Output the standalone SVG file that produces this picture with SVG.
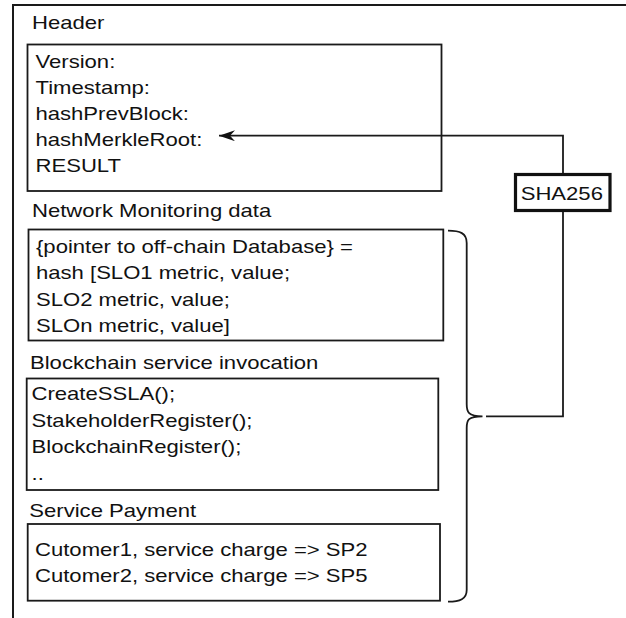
<svg xmlns="http://www.w3.org/2000/svg" width="626" height="618" viewBox="0 0 626 618">
  <style>
    .box { fill: #ffffff; stroke: #1a1a1a; stroke-width: 1.8; }
    .hash { fill: #ffffff; stroke: #111111; stroke-width: 3.2; }
    .wire { fill: none; stroke: #1a1a1a; stroke-width: 1.8; }
    .frame { fill: none; stroke: #1a1a1a; stroke-width: 2; }
    text { font-family: "Liberation Sans", Arial, Helvetica, sans-serif; font-size: 18.8px; fill: #111111; }
  </style>
  <defs>
    <marker id="arrow" markerUnits="userSpaceOnUse" viewBox="0 0 16 11" refX="16" refY="5.5" markerWidth="16" markerHeight="11" orient="auto">
      <path d="M0,0 L16,5.5 L0,11 L5,5.5 Z" fill="#111111"/>
    </marker>
  </defs>

  <!-- block frame: left edge and top edge -->
  <path class="frame" d="M13 618 V5 H626"/>

  <g id="header">
    <g transform="scale(1.175 1)"><text x="27.23" y="29.3">Header</text></g>
    <rect class="box" x="27.5" y="44.5" width="414" height="146.5"/>
    <g transform="scale(1.175 1)">
      <text x="30.21" y="68.4">Version:</text>
      <text x="30.21" y="94.3">Timestamp:</text>
      <text x="30.21" y="120.2">hashPrevBlock:</text>
      <text x="30.21" y="146.1">hashMerkleRoot:</text>
      <text x="30.21" y="172">RESULT</text>
    </g>
  </g>

  <g id="monitoring">
    <g transform="scale(1.175 1)"><text x="27.23" y="216.7">Network Monitoring data</text></g>
    <rect class="box" x="28.5" y="229.5" width="414.8" height="111"/>
    <g transform="scale(1.175 1)">
      <text x="30.64" y="253.3">{pointer to off-chain Database} =</text>
      <text x="30.64" y="279.5">hash [SLO1 metric, value;</text>
      <text x="30.64" y="305.7">SLO2 metric, value;</text>
      <text x="30.64" y="331.9">SLOn metric, value]</text>
    </g>
  </g>

  <g id="invocation">
    <g transform="scale(1.175 1)"><text x="25.53" y="369">Blockchain service invocation</text></g>
    <rect class="box" x="26.7" y="378.5" width="411.6" height="111.5"/>
    <g transform="scale(1.175 1)">
      <text x="26.81" y="400">CreateSSLA();</text>
      <text x="26.81" y="426.7">StakeholderRegister();</text>
      <text x="26.81" y="453.3">BlockchainRegister();</text>
      <text x="26.81" y="480">..</text>
    </g>
  </g>

  <g id="payment">
    <g transform="scale(1.175 1)"><text x="24.94" y="516.7">Service Payment</text></g>
    <rect class="box" x="27.7" y="524" width="412.3" height="76.7"/>
    <g transform="scale(1.175 1)">
      <text x="29.79" y="555.7">Cutomer1, service charge =&gt; SP2</text>
      <text x="29.79" y="582.3">Cutomer2, service charge =&gt; SP5</text>
    </g>
  </g>

  <g id="sha256">
    <rect class="hash" x="515.5" y="174.5" width="94.5" height="36"/>
    <g transform="scale(1.175 1)"><text x="443.15" y="200">SHA256</text></g>
  </g>

  <g id="connectors">
    <!-- curly brace grouping the body sections -->
    <path class="wire" d="M448 230.7 C460 230.7 466.7 233 466.7 243 V404 C466.7 412 468 416.3 482.5 416.3 C468 416.3 466.7 420 466.7 428 V590 C466.7 599 460 601.7 448 601.7"/>
    <!-- body into the hash function -->
    <path class="wire" d="M486 416.3 H563 V212"/>
    <!-- hash output into the Merkle root field -->
    <path class="wire" d="M563 173 V135.7 H219" marker-end="url(#arrow)"/>
  </g>
</svg>
